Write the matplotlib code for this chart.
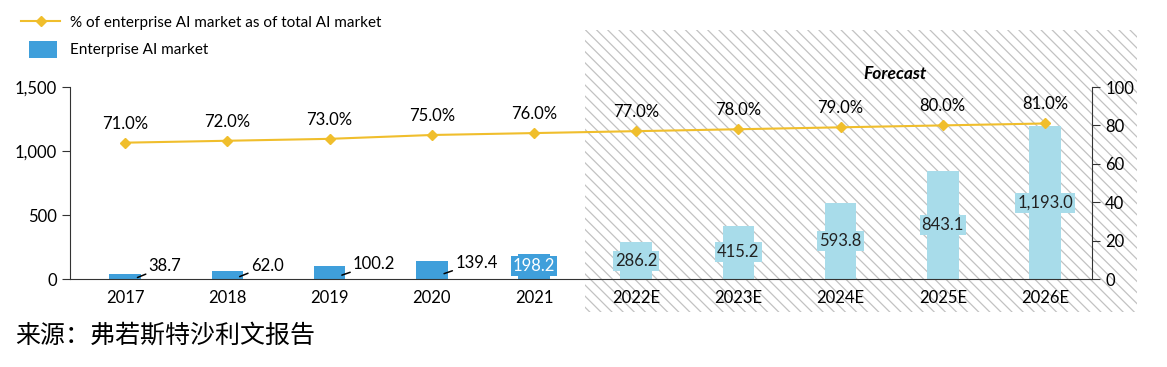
import matplotlib.pyplot as plt
from matplotlib.patches import Rectangle, Patch
from matplotlib.lines import Line2D
from matplotlib.legend_handler import HandlerPatch

plt.rcParams['font.family'] = ['Lato', 'Noto Sans CJK SC', 'DejaVu Sans']
plt.rcParams['hatch.linewidth'] = 0.9

years = ['2017', '2018', '2019', '2020', '2021', '2022E', '2023E', '2024E', '2025E', '2026E']
market = [38.7, 62.0, 100.2, 139.4, 198.2, 286.2, 415.2, 593.8, 843.1, 1193.0]
share = [71.0, 72.0, 73.0, 75.0, 76.0, 77.0, 78.0, 79.0, 80.0, 81.0]
n_hist = 5

bar_hist = '#3f9fdb'
bar_fc = '#a8dcea'
line_c = '#f0be2c'
hatch_c = '#c2c2c2'

fig = plt.figure(figsize=(11.67, 3.67), dpi=100)

# hatched forecast area behind everything
fig.patches.append(Rectangle((585 / 1167, 1 - 312 / 367), (1137 - 585) / 1167, (312 - 30) / 367,
                             transform=fig.transFigure, facecolor='none', edgecolor=hatch_c,
                             linewidth=0, hatch='\\\\\\', zorder=-1))

ax = fig.add_axes([70 / 1167, 1 - 279 / 367, (1092 - 70) / 1167, (279 - 87) / 367])
ax.patch.set_visible(False)
ax2 = ax.twinx()

x = list(range(len(years)))
colors = [bar_hist] * n_hist + [bar_fc] * (len(years) - n_hist)
ax.bar(x, market, width=0.31, color=colors, zorder=2)
ax.set_ylim(0, 1500)
ax.set_xlim(-0.54, 9.46)
ax.set_yticks([0, 500, 1000, 1500])
ax.set_yticklabels(['0', '500', '1,000', '1,500'])
ax.set_xticks(x)
ax.set_xticklabels(years)
ax.tick_params(axis='x', length=0, pad=8, labelsize=12)
ax.tick_params(axis='y', direction='out', length=6, labelsize=12, color='#333333')
for s in ['top', 'right']:
    ax.spines[s].set_visible(False)
ax.spines['left'].set_color('#333333')
ax.spines['bottom'].set_color('#333333')

# value labels
for i, v in enumerate(market):
    if i < n_hist - 1:
        ax.annotate(f'{v:,.1f}', xy=(i + 0.12, v * 0.3), xytext=(8, 8), textcoords='offset points',
                    ha='left', va='center', fontsize=12, zorder=4,
                    arrowprops=dict(arrowstyle='-', lw=1.1, color='black', shrinkA=0, shrinkB=0))
    elif i == n_hist - 1:
        ax.text(i, v / 2, f'{v:,.1f}', ha='center', va='center', fontsize=12, color='white', zorder=4,
                bbox=dict(boxstyle='square,pad=0.12', facecolor=bar_hist, edgecolor='none'))
    else:
        ax.text(i, v / 2, f'{v:,.1f}', ha='center', va='center', fontsize=12, color='#222222', zorder=4,
                bbox=dict(boxstyle='square,pad=0.12', facecolor=bar_fc, edgecolor='none'))

ax2.plot(x, share, color=line_c, lw=1.5, marker='D', markersize=5.5, zorder=3)
ax2.set_ylim(0, 100)
ax2.set_yticks([0, 20, 40, 60, 80, 100])
ax2.tick_params(axis='y', direction='out', length=6, labelsize=12, color='#333333')
for s in ['top', 'left', 'bottom']:
    ax2.spines[s].set_visible(False)
ax2.spines['right'].set_color('#333333')
for i, p in enumerate(share):
    ax2.annotate(f'{p:.1f}%', xy=(i, p), xytext=(0, 8), textcoords='offset points',
                 ha='center', va='bottom', fontsize=12)

fig.text(895 / 1167, 1 - 74 / 367, 'Forecast', ha='center', va='center', fontsize=12.5,
         fontweight='bold', style='italic')


def square_patch(legend, orig_handle, xdescent, ydescent, width, height, fontsize):
    return Rectangle((xdescent + 0.2 * width, ydescent - 0.35 * height), 0.72 * width, 1.6 * height)


handles = [Line2D([0], [0], color=line_c, lw=1.5, marker='D', markersize=5),
           Patch(facecolor=bar_hist)]
fig.legend(handles, ['% of enterprise AI market as of total AI market', 'Enterprise AI market'],
           loc='upper left', bbox_to_anchor=(0.006, 0.995), frameon=False, fontsize=11,
           handlelength=2.6, labelspacing=0.9, handletextpad=0.6,
           handler_map={Patch: HandlerPatch(patch_func=square_patch)})

fig.text(15 / 1167, 1 - 336 / 367, '来源：弗若斯特沙利文报告', ha='left', va='center',
         fontsize=18, style='italic', family=['Noto Sans CJK SC', 'DejaVu Sans'])

fig.savefig('out.png', dpi=100)
